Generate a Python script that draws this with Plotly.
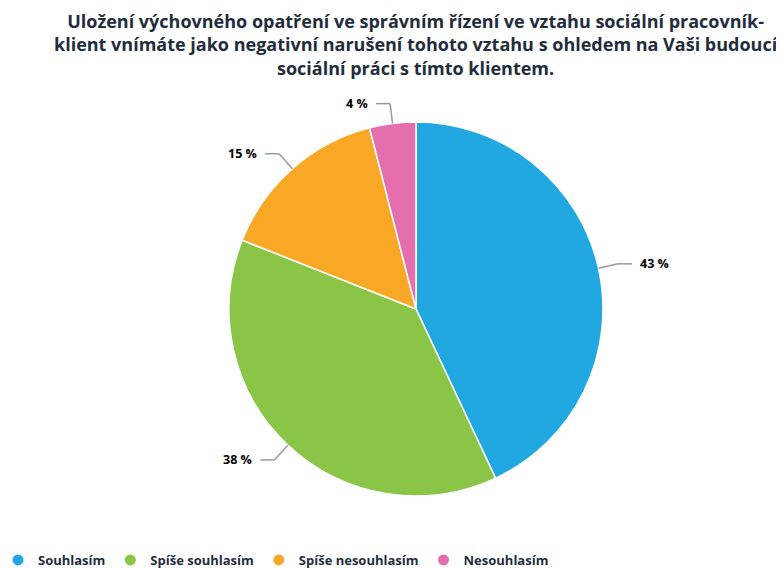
import math
import plotly.graph_objects as go

categories = ["Souhlasím", "Spíše souhlasím", "Spíše nesouhlasím", "Nesouhlasím"]
values = [43, 38, 15, 4]
colors = ["#21a8e0", "#8bc547", "#f9a826", "#e56fae"]
title_lines = [
    "Uložení výchovného opatření ve správním řízení ve vztahu sociální pracovník-",
    "klient vnímáte jako negativní narušení tohoto vztahu s ohledem na Vaši budoucí",
    "sociální práci s tímto klientem.",
]

# the page has an 8px body margin, so the figure is slightly smaller than the window
OX, OY = 8, 8
W, H = 784 - OX, 569 - OY
B = 40            # bottom margin (legend lives below the plot area)
PH = H - B
CX, CY, R = 416, 309, 187  # pie centre / radius in window pixels


def px(x, y):
    """window pixel -> paper coordinates"""
    return (x - OX) / W, (PH - (y - OY)) / PH


fig = go.Figure()
x0p, y0p = px(CX - R, CY + R)
x1p, y1p = px(CX + R, CY - R)
fig.add_trace(go.Pie(
    labels=categories, values=values, sort=False, direction="clockwise", rotation=0,
    marker=dict(colors=colors, line=dict(color="white", width=1.5)),
    textinfo="none", hoverinfo="label+percent", showlegend=False,
    domain=dict(x=[x0p, x1p], y=[y0p, y1p]),
))

# legend entries (circle markers)
for name, col in zip(categories, colors):
    fig.add_trace(go.Scatter(x=[None], y=[None], mode="markers", name=name,
                             marker=dict(symbol="circle", size=11, color=col)))

shapes, annotations = [], []
total = sum(values)
cum = 0
for v in values:
    mid = (cum + v / 2) / total * 2 * math.pi
    cum += v
    dx, dy = math.sin(mid), -math.cos(mid)
    x1, y1 = CX + R * dx, CY + R * dy
    x2, y2 = CX + (R + 20) * dx, CY + (R + 20) * dy
    side = 1 if dx >= 0 else -1
    x3 = x2 + 14 * side
    for (a, b), (c, d) in [((x1, y1), (x2, y2)), ((x2, y2), (x3, y2))]:
        pa, pb = px(a, b)
        pc, pd = px(c, d)
        shapes.append(dict(type="line", xref="paper", yref="paper", x0=pa, y0=pb, x1=pc, y1=pd,
                           line=dict(color="#9a9a9a", width=1.5)))
    lx, ly = px(x3 + 6 * side, y2)
    annotations.append(dict(xref="paper", yref="paper", x=lx, y=ly, showarrow=False,
                            text=f"<b>{round(v / total * 100)} %</b>",
                            xanchor="left" if side > 0 else "right", yanchor="middle",
                            font=dict(size=12.5, color="#000000", family="Open Sans")))

tx, ty = px(416, 7)
annotations.append(dict(xref="paper", yref="paper", x=tx, y=ty, showarrow=False,
                        xanchor="center", yanchor="top", align="center",
                        text="<b>" + "<br>".join(title_lines) + "</b>",
                        font=dict(size=18, color="#1f2d3d", family="Open Sans")))

lgx, lgy = px(-2, 560)
fig.update_layout(
    width=W, height=H,
    margin=dict(l=0, r=0, t=0, b=B, autoexpand=False),
    paper_bgcolor="white", plot_bgcolor="white",
    font=dict(family="Open Sans"),
    xaxis=dict(visible=False), yaxis=dict(visible=False),
    legend=dict(orientation="h", x=lgx, xanchor="left", y=lgy, yanchor="middle",
                bgcolor="rgba(0,0,0,0)",
                font=dict(size=13, color="#1f2d3d", family="Open Sans", weight="bold"),
                itemwidth=30),
    shapes=shapes, annotations=annotations,
)

fig.write_html("out.html")
